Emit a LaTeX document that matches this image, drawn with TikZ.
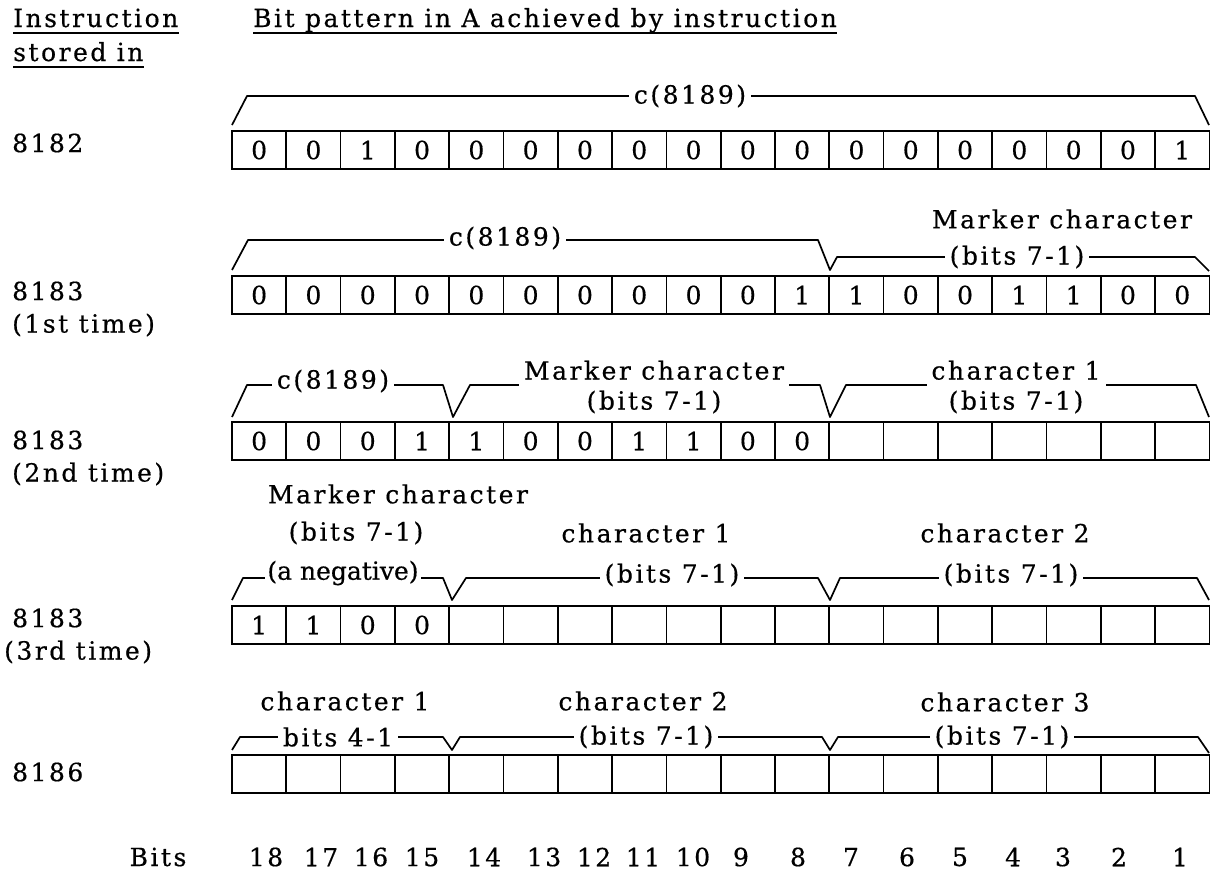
\documentclass[tikz,border=0pt]{standalone}
\usepackage{fontspec}
\setmainfont{DejaVu Serif}[LetterSpace=10,FakeBold=0.5]
\newfontfamily\tightfont{DejaVu Serif}[FakeBold=0.5]
\begin{document}
\begin{tikzpicture}[x=1pt,y=-1pt,
  txt/.style={font=\fontsize{25}{30}\selectfont, inner sep=0pt},
  cell/.style={draw, line width=1.7pt, minimum width=54.3pt, minimum height=38pt,
               inner sep=0pt, font=\fontsize{25}{28}\selectfont},
  brace/.style={line width=1.7pt, line join=round},
  lab/.style={txt, fill=white, inner xsep=5pt, inner ysep=1pt},
  uline/.style={line width=1.5pt},
]
\useasboundingbox (0,0) rectangle (1210,884);

% column headings
\node[txt, anchor=base west] (hinstr) at (13,27) {Instruction};
\node[txt, anchor=base west] (hstored) at (13,61) {stored in};
\node[txt, anchor=base west] (hbits) at (253,27) {Bit pattern in A achieved by instruction};
\draw[uline] ([yshift=-6pt]hinstr.base west) -- ([yshift=-6pt]hinstr.base east);
\draw[uline] ([yshift=-6pt]hstored.base west) -- ([yshift=-6pt]hstored.base east);
\draw[uline] ([yshift=-6pt]hbits.base west) -- ([yshift=-6pt]hbits.base east);

% instruction addresses
\node[txt, anchor=west] (l1) at (12,143) {8182};
\node[txt, anchor=west] (l2) at (12,291) {8183};
\node[txt, anchor=west] (l2b) at (12,325) {(1st time)};
\node[txt, anchor=west] (l3) at (12,440) {8183};
\node[txt, anchor=west] (l3b) at (12,474) {(2nd time)};
\node[txt, anchor=west] (l4) at (12,618) {8183};
\node[txt, anchor=west] (l4b) at (4,652) {(3rd time)};
\node[txt, anchor=west] (l5) at (12,772) {8186};

% register rows (18 bit cells each)
\foreach \v [count=\i] in {0,0,1,0,0,0,0,0,0,0,0,0,0,0,0,0,0,1}
  \node[cell] (a\i) at ({232+(\i-0.5)*54.3},150) {\v};
\foreach \v [count=\i] in {0,0,0,0,0,0,0,0,0,0,1,1,0,0,1,1,0,0}
  \node[cell] (b\i) at ({232+(\i-0.5)*54.3},295) {\v};
\foreach \v [count=\i] in {0,0,0,1,1,0,0,1,1,0,0,{},{},{},{},{},{},{}}
  \node[cell] (c\i) at ({232+(\i-0.5)*54.3},441) {\v};
\foreach \v [count=\i] in {1,1,0,0,{},{},{},{},{},{},{},{},{},{},{},{},{},{}}
  \node[cell] (d\i) at ({232+(\i-0.5)*54.3},625) {\v};
\foreach \i in {1,...,18}
  \node[cell] (e\i) at ({232+(\i-0.5)*54.3},774) {};

% field brackets, row 1
\draw[brace] (232,125) -- (247,96) -- (1195,96) -- (1209,125);
\node[lab] (f1) at (690,96) {c(8189)};

% row 2
\draw[brace] (232,270) -- (248,240) -- (818,240) -- (830,270) -- (837,257)
             -- (1195,257) -- (1209,271);
\node[lab] (f2a) at (505,238) {c(8189)};
\node[txt] (f2b) at (1062,219) {Marker character};
\node[lab] (f2c) at (1017,257) {(bits 7-1)};

% row 3
\draw[brace] (232,417) -- (247,385) -- (443,385) -- (453,417) -- (470,385)
             -- (820,385) -- (830,417) -- (846,385) -- (1196,385) -- (1209,417);
\node[lab] (f3a) at (333,381) {c(8189)};
\node[lab, align=center] (f3b) at (654,387) {Marker character\\(bits 7-1)};
\node[lab, align=center] (f3c) at (1016,387) {character 1\\(bits 7-1)};

% row 4
\draw[brace] (232,600) -- (243,578) -- (443,578) -- (452,600) -- (466,578)
             -- (818,578) -- (830,600) -- (840,578) -- (1197,578) -- (1209,600);
\node[txt] (f4a) at (398,494) {Marker character};
\node[txt] (f4b) at (356,533) {(bits 7-1)};
\node[lab, inner xsep=2pt, font=\tightfont\fontsize{25}{30}\selectfont] (f4c) at (343,573) {(a negative)};
\node[txt] (f4d) at (646,533) {character 1};
\node[lab] (f4e) at (672,575) {(bits 7-1)};
\node[txt] (f4f) at (1005,533) {character 2};
\node[lab] (f4g) at (1011,575) {(bits 7-1)};

% row 5
\draw[brace] (232,750) -- (240,737) -- (443,737) -- (452,750) -- (460,737)
             -- (822,737) -- (830,750) -- (838,737) -- (1198,737) -- (1209,753);
\node[txt] (f5a) at (345,701) {character 1};
\node[lab] (f5b) at (338,737) {bits 4-1};
\node[txt] (f5c) at (643,701) {character 2};
\node[lab] (f5d) at (646,737) {(bits 7-1)};
\node[txt] (f5e) at (1005,702) {character 3};
\node[lab] (f5f) at (1002,737) {(bits 7-1)};

% bit numbering
\node[txt] (bitsl) at (158,857) {Bits};
\foreach \n/\x [count=\i] in {18/266,17/321,16/371,15/422,14/484,13/544,12/594,11/643,10/693,
    9/741,8/798,7/851,6/907,5/960,4/1013,3/1063,2/1119,1/1180}
  \node[txt] (n\i) at (\x,857) {\n};
\end{tikzpicture}
\end{document}
